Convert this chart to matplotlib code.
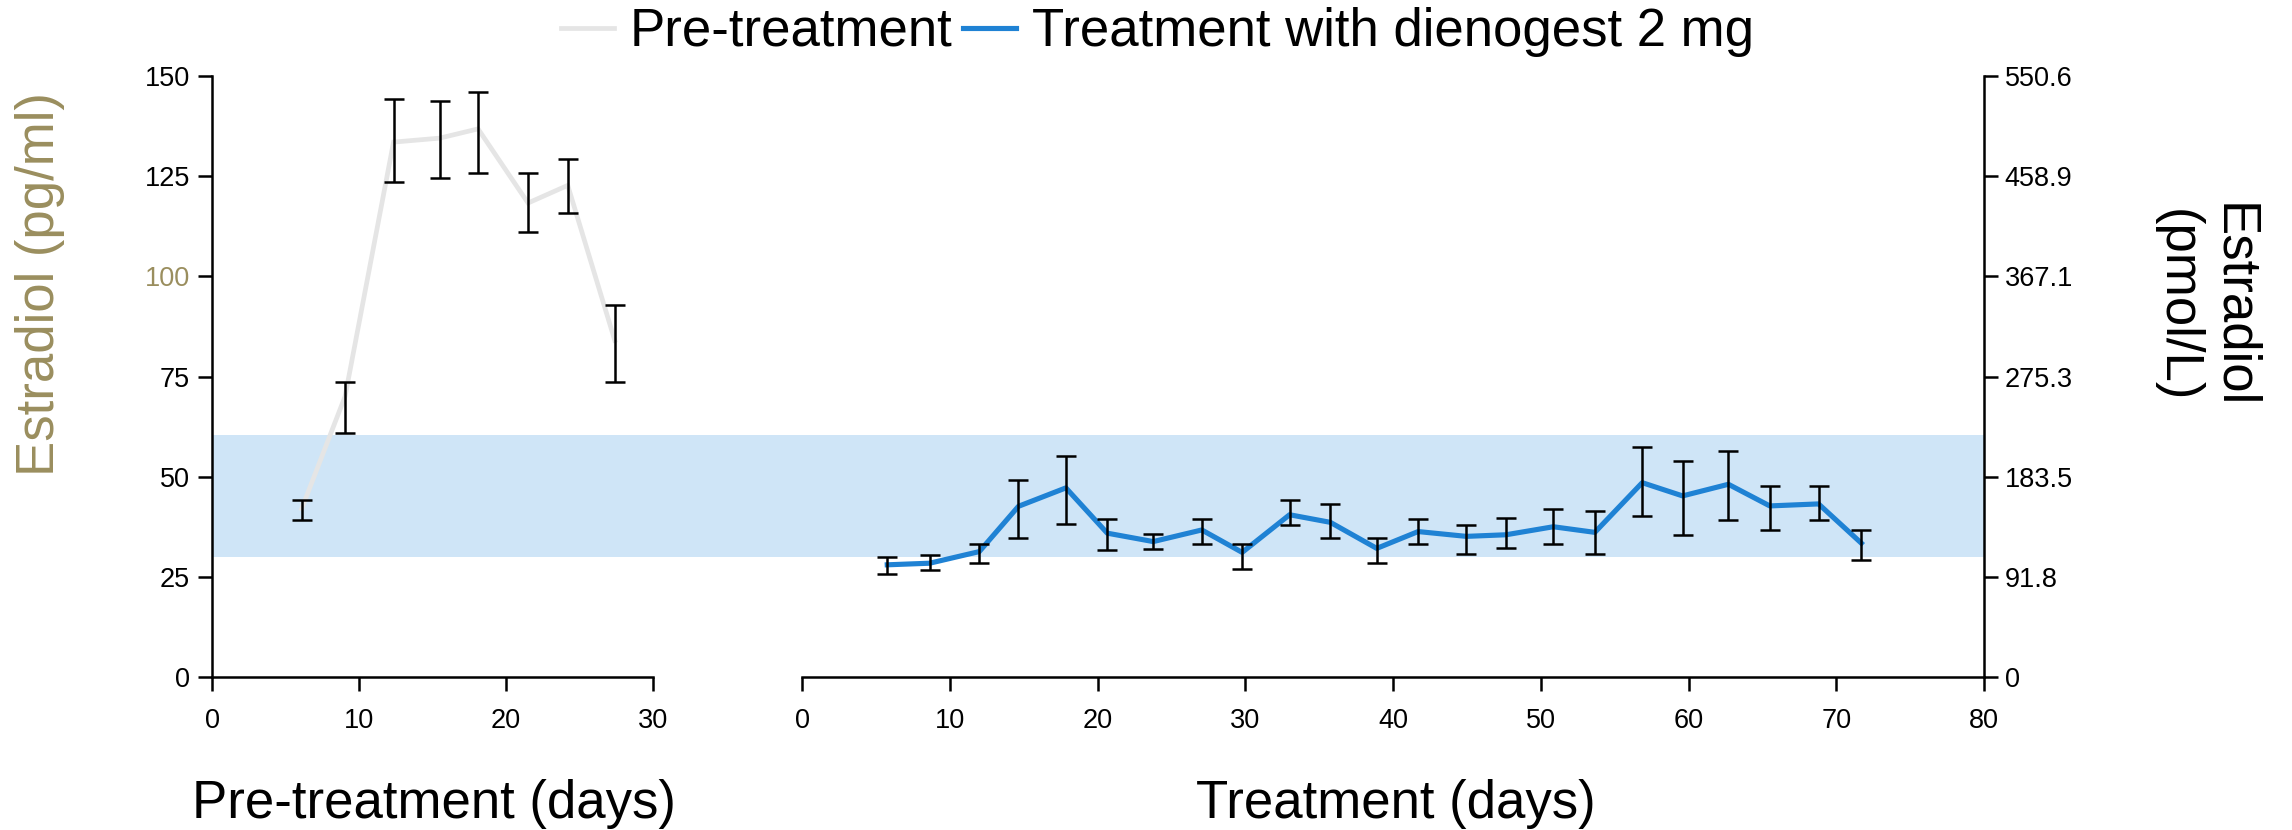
import matplotlib
matplotlib.use("Agg")
import matplotlib.pyplot as plt
import numpy as np

plt.rcParams['font.family'] = ['Liberation Sans', 'DejaVu Sans']

# ---------------- data ----------------
pre_days = [6.1, 9.05, 12.35, 15.5, 18.1, 21.5, 24.2, 27.4]
pre_mean = [42.0, 70.0, 133.5, 134.5, 136.8, 118.3, 122.7, 84.0]
pre_low = [39.1, 60.8, 123.5, 124.6, 125.8, 111.0, 115.7, 73.6]
pre_high = [44.3, 73.7, 144.2, 143.7, 146.1, 125.8, 129.4, 92.9]

trt_days = [5.77, 8.64, 12.0, 14.65, 17.86, 20.66, 23.77, 27.06, 29.79, 33.0,
            35.76, 38.9, 41.7, 44.96, 47.65, 50.85, 53.66, 56.87, 59.6, 62.7,
            65.5, 68.8, 71.7]
trt_mean = [28.0, 28.4, 31.3, 42.6, 47.2, 35.9, 33.8, 36.7, 31.1, 40.5,
            38.6, 32.1, 36.3, 35.1, 35.5, 37.5, 36.1, 48.5, 45.2, 48.1,
            42.7, 43.2, 33.4]
trt_low = [25.7, 26.7, 28.4, 34.6, 38.1, 31.7, 32.0, 33.1, 27.0, 37.9,
           34.6, 28.5, 33.2, 30.6, 32.1, 33.1, 30.7, 40.2, 35.4, 39.3,
           36.8, 39.3, 29.2]
trt_high = [30.0, 30.5, 33.2, 49.1, 55.1, 39.4, 35.6, 39.5, 33.2, 44.2,
            43.1, 34.7, 39.5, 37.9, 39.6, 41.9, 41.5, 57.3, 53.8, 56.3,
            47.6, 47.6, 36.8]

band_range = [30.0, 60.5]
y_ticks = [0, 25, 50, 75, 100, 125, 150]
y_right_labels = ["0", "91.8", "183.5", "275.3", "367.1", "458.9", "550.6"]
pre_xticks = [0, 10, 20, 30]
trt_xticks = [0, 10, 20, 30, 40, 50, 60, 70, 80]

# ---------------- style ----------------
olive = '#9a8e5e'
band_col = '#cfe5f7'
blue = '#1f82d4'
gray = '#e5e5e5'
tick_fs = 19.5
label_fs = 38
spine_w = 1.8

W, H = 2292, 830
fig = plt.figure(figsize=(W / 100, H / 100), dpi=100)

x0_l, x1_l = 212, 653
x0_r, x1_r = 802, 1984
y_top, y_bot = 76, 677
bottom = 1 - y_bot / H
height = (y_bot - y_top) / H

# background band axes spanning both panels
axb = fig.add_axes([x0_l / W, bottom, (x1_r - x0_l) / W, height], zorder=0)
axb.set_ylim(0, 150)
axb.set_xlim(0, 1)
axb.axhspan(band_range[0], band_range[1], color=band_col, lw=0)
axb.axis('off')

axl = fig.add_axes([x0_l / W, bottom, (x1_l - x0_l) / W, height], zorder=2)
axr = fig.add_axes([x0_r / W, bottom, (x1_r - x0_r) / W, height], zorder=2)
for ax in (axl, axr):
    ax.patch.set_visible(False)
    ax.set_ylim(0, 150)
    ax.spines['top'].set_visible(False)
    for s in ax.spines.values():
        s.set_linewidth(spine_w)
    ax.tick_params(direction='out', length=10, width=spine_w, labelsize=tick_fs)
    ax.tick_params(axis='x', pad=12)

# left panel
axl.spines['right'].set_visible(False)
axl.set_xlim(0, 30)
axl.set_xticks(pre_xticks)
axl.set_yticks(y_ticks)
axl.set_yticklabels([str(v) for v in y_ticks])
axl.tick_params(axis='y', pad=6)
for lab, v in zip(axl.get_yticklabels(), y_ticks):
    if v == 100:
        lab.set_color(olive)

pm = np.array(pre_mean)
l1, = axl.plot(pre_days, pre_mean, color=gray, lw=3.4, zorder=3,
               label='Pre-treatment', solid_joinstyle='miter')
axl.errorbar(pre_days, pre_mean,
             yerr=[pm - np.array(pre_low), np.array(pre_high) - pm],
             fmt='none', ecolor='black', elinewidth=1.8, capsize=7.2,
             capthick=1.8, zorder=4)

# right panel
axr.spines['left'].set_visible(False)
axr.set_xlim(0, 80)
axr.set_xticks(trt_xticks)
axr.yaxis.set_ticks_position('right')
axr.set_yticks(y_ticks)
axr.set_yticklabels(y_right_labels)
axr.tick_params(axis='y', pad=5)

tm = np.array(trt_mean)
l2, = axr.plot(trt_days, trt_mean, color=blue, lw=3.7, zorder=3,
               label='Treatment with dienogest 2 mg')
axr.errorbar(trt_days, trt_mean,
             yerr=[tm - np.array(trt_low), np.array(trt_high) - tm],
             fmt='none', ecolor='black', elinewidth=1.8, capsize=7.2,
             capthick=1.8, zorder=4)

# labels
fig.text(434 / W, 1 - 804 / H, 'Pre-treatment (days)', fontsize=label_fs,
         ha='center', va='center')
fig.text(1396 / W, 1 - 804 / H, 'Treatment (days)', fontsize=label_fs,
         ha='center', va='center')
fig.text(40 / W, 1 - 284 / H, 'Estradiol (pg/ml)', fontsize=label_fs,
         color=olive, rotation=90, ha='center', va='center')
fig.text(2205 / W, 1 - 306 / H, 'Estradiol\n(pmol/L)', fontsize=label_fs,
         rotation=270, ha='center', va='center', linespacing=1.15)

fig.legend(handles=[l1, l2], loc='center', bbox_to_anchor=(0.505, 1 - 32 / H),
           ncol=2, frameon=False, fontsize=label_fs, handlelength=1.0,
           handletextpad=0.3, columnspacing=0.2, borderpad=0,
           borderaxespad=0)

fig.savefig('out.png', dpi=100)
